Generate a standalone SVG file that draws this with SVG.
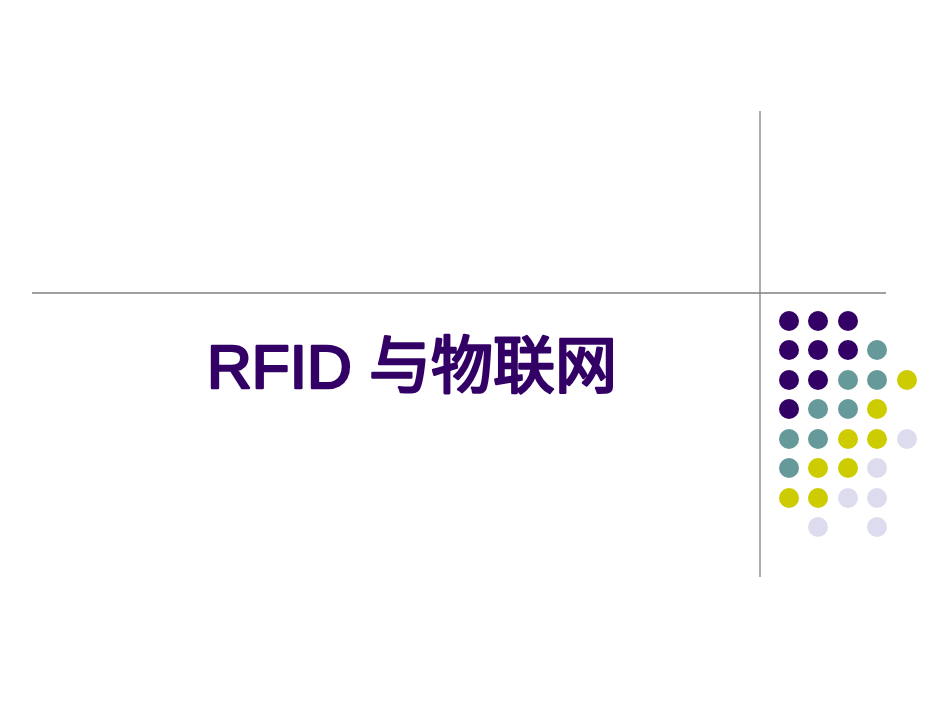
<svg xmlns="http://www.w3.org/2000/svg" width="950" height="713" viewBox="0 0 950 713">
<style>
.p{fill:#330066}.t{fill:#669999}.y{fill:#cccc00}.l{fill:#dddcee}
.ln{stroke:#808080;stroke-width:1.3}
</style>
<rect width="950" height="713" fill="#fff"/>
<g id="lines"><line class="ln" x1="760" y1="111" x2="760" y2="577"/><line class="ln" x1="32" y1="293" x2="886" y2="293"/></g>
<g id="title"><text x="412" y="388" text-anchor="middle" font-family="'Liberation Sans','Noto Sans CJK SC',sans-serif" font-size="62" fill="#330066" stroke="#330066" stroke-width="2.6" stroke-linejoin="round">RFID 与物联网</text></g>
<g id="dots">
<circle class="p" cx="789" cy="321" r="10"/><circle class="p" cx="818" cy="321" r="10"/><circle class="p" cx="848" cy="321" r="10"/>
<circle class="p" cx="789" cy="350" r="10"/><circle class="p" cx="818" cy="350" r="10"/><circle class="p" cx="848" cy="350" r="10"/><circle class="t" cx="877" cy="350" r="10"/>
<circle class="p" cx="789" cy="380" r="10"/><circle class="p" cx="818" cy="380" r="10"/><circle class="t" cx="848" cy="380" r="10"/><circle class="t" cx="877" cy="380" r="10"/><circle class="y" cx="907" cy="380" r="10"/>
<circle class="p" cx="789" cy="409" r="10"/><circle class="t" cx="818" cy="409" r="10"/><circle class="t" cx="848" cy="409" r="10"/><circle class="y" cx="877" cy="409" r="10"/>
<circle class="t" cx="789" cy="439" r="10"/><circle class="t" cx="818" cy="439" r="10"/><circle class="y" cx="848" cy="439" r="10"/><circle class="y" cx="877" cy="439" r="10"/><circle class="l" cx="907" cy="439" r="10"/>
<circle class="t" cx="789" cy="468" r="10"/><circle class="y" cx="818" cy="468" r="10"/><circle class="y" cx="848" cy="468" r="10"/><circle class="l" cx="877" cy="468" r="10"/>
<circle class="y" cx="789" cy="498" r="10"/><circle class="y" cx="818" cy="498" r="10"/><circle class="l" cx="848" cy="498" r="10"/><circle class="l" cx="877" cy="498" r="10"/>
<circle class="l" cx="818" cy="527" r="10"/><circle class="l" cx="877" cy="527" r="10"/>
</g>
</svg>
